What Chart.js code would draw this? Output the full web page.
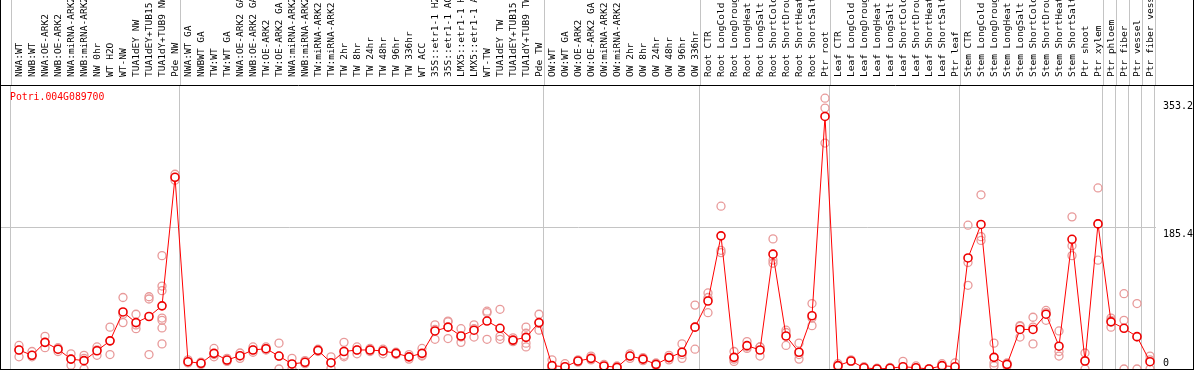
<!DOCTYPE html>
<html>
<head>
<meta charset="utf-8">
<script src="https://cdn.jsdelivr.net/npm/chart.js@4/dist/chart.umd.min.js"></script>
<style>
  html, body { margin: 0; padding: 0; background: #fff; }
</style>
</head>
<body>
<canvas id="c" width="1194" height="370"></canvas>
<script>
// gene shown in the plot
const geneId = 'Potri.004G089700';

const categories = [
  'NWA:WT', 'NWB:WT', 'NWA:OE-ARK2', 'NWB:OE-ARK2', 'NWA:miRNA-ARK2', 'NWB:miRNA-ARK2',
  'NW 0hr', 'WT H2O', 'WT-NW', 'TUA1dEY NW', 'TUA1dEY+TUB15 NW', 'TUA1dY+TUB9 NW', 'Pde NW',
  'NWA:WT GA', 'NWBWT GA', 'TW:WT', 'TW:WT GA', 'NWA:OE-ARK2 GA', 'NWB:OE-ARK2 GA',
  'TW:OE-ARK2', 'TW:OE-ARK2 GA', 'NWA:miRNA-ARK2', 'NWB:miRNA-ARK2', 'TW:miRNA-ARK2', 'TW:miRNA-ARK2',
  'TW 2hr', 'TW 8hr', 'TW 24hr', 'TW 48hr', 'TW 96hr', 'TW 336hr', 'WT ACC',
  '35S::etr1-1 H2O', '35S::etr1-1 ACC', 'LMX5::etr1-1 H2O', 'LMX5::etr1-1 ACC',
  'WT-TW', 'TUA1dEY TW', 'TUA1dEY+TUB15 TW', 'TUA1dY+TUB9 TW', 'Pde TW',
  'OW:WT', 'OW:WT GA', 'OW:OE-ARK2', 'OW:OE-ARK2 GA', 'OW:miRNA-ARK2', 'OW:miRNA-ARK2',
  'OW 2hr', 'OW 8hr', 'OW 24hr', 'OW 48hr', 'OW 96hr', 'OW 336hr',
  'Root CTR', 'Root LongCold', 'Root LongDrought', 'Root LongHeat', 'Root LongSalt',
  'Root ShortCold', 'Root ShortDrought', 'Root ShortHeat', 'Root ShortSalt', 'Ptr root',
  'Leaf CTR', 'Leaf LongCold', 'Leaf LongDrought', 'Leaf LongHeat', 'Leaf LongSalt',
  'Leaf ShortCold', 'Leaf ShortDrought', 'Leaf ShortHeat', 'Leaf ShortSalt', 'Ptr leaf',
  'Stem CTR', 'Stem LongCold', 'Stem LongDrought', 'Stem LongHeat', 'Stem LongSalt',
  'Stem ShortCold', 'Stem ShortDrought', 'Stem ShortHeat', 'Stem ShortSalt', 'Ptr shoot', 'Ptr xylem',
  'Ptr phloem', 'Ptr fiber', 'Ptr vessel', 'Ptr fiber vessel'
];

// index of first category of each experiment block (last = end)
const groupStarts = [0, 13, 41, 53, 63, 73, 84, 85, 86, 87, 88];

const means = [
  25, 18, 35, 26, 13, 11, 24, 37, 75, 61, 69, 83, 252,
  9.6, 7.5, 20.6, 11.8, 17.5, 25, 26.7, 17, 6.6, 8.8, 24.5, 8.3, 23, 25, 25, 23.7,
  20.6, 16, 20.6, 50, 55, 43.4, 51, 63, 53.5, 38, 41.6, 61,
  4.4, 3, 10.5, 14, 4, 2.2, 17, 13, 6.1, 15, 22, 55,
  89.4, 175, 15.3, 30.7, 25, 151, 43.4, 22, 70, 332,
  4.4, 10.5, 1.7, 0, 1, 3, 1.7, 0, 4.4, 3,
  146, 190, 15.3, 6.1, 52, 52, 72, 30, 170.5, 10.5, 190.7,
  62, 53.5, 42.5, 9.6
];

const replicates = [
  [31, 16, 25], [23, 16, 18], [43, 28, 35], [28, 23, 26], [20, 5, 13], [18, 0, 14],
  [29, 18, 25], [55, 19, 37], [94, 61, 72], [72, 53, 58], [95, 92, 19],
  [149, 109, 103, 67, 64, 54, 33], [256, 248, 252],
  [12, 8, 9], [9, 6, 7], [27, 16, 19], [14, 10, 11], [21, 14, 17], [29, 22, 25],
  [29, 25, 27], [34, 0, 17], [14, 0, 6], [11, 7, 9], [26, 23, 24], [16, 1, 8],
  [35, 16, 18], [29, 20, 25], [27, 23, 25], [26, 20, 24], [22, 19, 21], [19, 13, 16],
  [27, 18, 17], [58, 39, 52], [62, 40, 63], [53, 35, 42], [58, 42, 53], [76, 74, 39],
  [78.5, 43, 39], [41, 36, 37], [55, 47, 34, 29], [72, 51, 60],
  [12, 0, 1], [7, 1, 1], [12, 9, 10], [17, 13, 12], [6, 3, 3], [4, 1, 2],
  [20, 14, 17], [15, 11, 13], [8, 5, 5], [18, 12, 15], [33, 14, 19], [84, 26, 55],
  [100, 74, 94], [214, 156, 153], [23, 10, 13], [36, 29, 27], [29, 17, 29],
  [171, 139, 143], [51, 31, 48], [34, 13, 19], [86, 57, 67], [356, 343, 297],
  [7, 3, 3], [12, 10, 10], [3, 1, 1], [1, 0, 0], [2, 1, 0], [10, 0, 0], [4, 1, 0],
  [0, 0, 0], [7, 4, 2], [8, 1, 0],
  [189, 110, 140], [229, 174, 169], [34, 8, 4], [8, 6, 4], [57, 42, 56], [68, 33, 55],
  [77, 64, 74], [50, 23, 17], [200, 162, 149], [21, 0, 11], [238, 143, 191],
  [67, 55, 64], [99, 64, 0], [86, 0, 42], [17, 0, 12]
];

const yTicks = [0, 185.4, 353.2];
const yMax = 372;

const monoFont = { family: "'DejaVu Sans Mono', monospace", size: 9.5 };
const gridGray = '#c4c4c4';
// plot area runs x=1..1156, category i sits at 19 + 13*i
const xMin = (1 - 19) / 13;
const xMax = (1156 - 19) / 13;

const meanPoints = means.map((v, i) => ({ x: i, y: v }));
const repPoints = [];
replicates.forEach((reps, i) => reps.forEach(v => repPoints.push({ x: i, y: v })));

const frame = {
  id: 'frame',
  beforeDraw(chart) {
    const { ctx, chartArea, scales } = chart;
    ctx.save();
    ctx.strokeStyle = gridGray;
    ctx.lineWidth = 1;
    groupStarts.forEach(k => {
      const px = Math.round(scales.x.getPixelForValue(k - 0.62)) + 0.5;
      ctx.beginPath();
      ctx.moveTo(px, 0);
      ctx.lineTo(px, chartArea.top);
      ctx.stroke();
    });
    ctx.restore();
  },
  afterDraw(chart) {
    const { ctx, chartArea, width, height } = chart;
    ctx.save();
    ctx.strokeStyle = '#000';
    ctx.lineWidth = 1;
    ctx.beginPath();
    ctx.moveTo(0, chartArea.top - 0.5); ctx.lineTo(width, chartArea.top - 0.5);
    ctx.moveTo(0, chartArea.bottom + 0.5); ctx.lineTo(width, chartArea.bottom + 0.5);
    ctx.moveTo(0.5, 0); ctx.lineTo(0.5, height);
    ctx.moveTo(width - 0.5, 0); ctx.lineTo(width - 0.5, height);
    ctx.stroke();
    ctx.fillStyle = '#ff0000';
    ctx.font = "9.8px 'DejaVu Sans Mono', monospace";
    ctx.textBaseline = 'middle';
    ctx.fillText(geneId, 10, chartArea.top + 11);
    ctx.restore();
  }
};

new Chart(document.getElementById('c'), {
  type: 'line',
  data: {
    datasets: [
      {
        label: 'mean',
        data: meanPoints,
        order: 0,
        borderColor: '#ff0000',
        borderWidth: 1,
        pointRadius: 4,
        pointBorderWidth: 1.6,
        pointBorderColor: '#ee0000',
        pointBackgroundColor: '#ffffff'
      },
      {
        label: 'replicates',
        data: repPoints,
        order: 1,
        showLine: false,
        pointRadius: 4,
        pointBorderWidth: 1.3,
        pointBorderColor: '#e89a9a',
        pointBackgroundColor: 'rgba(0,0,0,0)'
      }
    ]
  },
  options: {
    responsive: false,
    animation: false,
    devicePixelRatio: 1,
    layout: { autoPadding: false, padding: { left: 1, right: 0, top: 0, bottom: 1 } },
    plugins: { legend: { display: false }, tooltip: { enabled: false }, title: { display: false } },
    scales: {
      x: {
        type: 'linear',
        position: 'bottom',
        min: xMin,
        max: xMax,
        afterBuildTicks: s => { s.ticks = groupStarts.map(k => ({ value: k - 0.62 })); },
        afterFit: s => { s.height = 0; s.paddingLeft = 0; s.paddingRight = 0; },
        ticks: { display: false },
        grid: { color: gridGray, lineWidth: 1, drawTicks: false },
        border: { display: false }
      },
      top: {
        axis: 'x',
        type: 'linear',
        position: 'top',
        min: xMin,
        max: xMax,
        afterBuildTicks: s => { s.ticks = categories.map((c, i) => ({ value: i })); },
        afterFit: s => { s.height = 86; s.paddingLeft = 0; s.paddingRight = 0; },
        ticks: {
          autoSkip: false,
          minRotation: 90,
          maxRotation: 90,
          padding: 1,
          labelOffset: 12,
          font: monoFont,
          color: '#000',
          callback: (v, i) => categories[i]
        },
        grid: { display: false },
        border: { display: false }
      },
      y: {
        type: 'linear',
        position: 'right',
        min: 0,
        max: yMax,
        afterBuildTicks: s => { s.ticks = yTicks.map(v => ({ value: v })); },
        afterFit: s => { s.width = 38; s.paddingTop = 0; s.paddingBottom = 0; },
        ticks: {
          padding: 7,
          font: { family: "'DejaVu Sans Mono', monospace", size: 10 },
          color: '#000',
          callback: v => (v === 0 ? ['0', ''] : ['', String(v)])
        },
        grid: {
          drawTicks: false,
          color: c => (c.tick && c.tick.value === 185.4 ? gridGray : 'rgba(0,0,0,0)')
        },
        border: { display: false }
      }
    }
  },
  plugins: [frame]
});
</script>
</body>
</html>
